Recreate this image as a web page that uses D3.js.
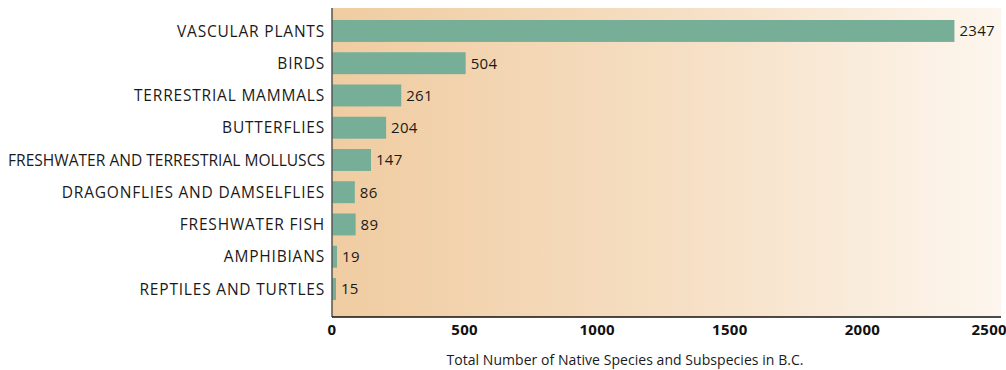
<!DOCTYPE html>
<html>
<head>
<meta charset="utf-8">
<script src="https://cdn.jsdelivr.net/npm/d3@7"></script>
<style>
  body { margin: 0; background: #fff; }
  svg { display: block; font-family: "Open Sans", sans-serif; }
</style>
</head>
<body>
<div id="chart"></div>
<script>
const categories = [
  "VASCULAR PLANTS", "BIRDS", "TERRESTRIAL MAMMALS", "BUTTERFLIES",
  "FRESHWATER AND TERRESTRIAL MOLLUSCS", "DRAGONFLIES AND DAMSELFLIES",
  "FRESHWATER FISH", "AMPHIBIANS", "REPTILES AND TURTLES"
];
const counts = [2347, 504, 261, 204, 147, 86, 89, 19, 15];
const xTicks = [0, 500, 1000, 1500, 2000, 2500];
const xTitle = "Total Number of Native Species and Subspecies in B.C.";

const width = 1006;
const height = 370;
const margin = { top: 8, right: 5, bottom: 53, left: 332 };

const svg = d3.select("#chart").append("svg")
  .attr("width", width)
  .attr("height", height);

const x = d3.scaleLinear().domain([0, 2500]).range([margin.left, 995]);
// step ~32.25px, bars ~22px tall
const y = d3.scaleBand().domain(categories)
  .range([20, 20 + 32.25 * (categories.length - 0.32)])
  .paddingInner(0.32).paddingOuter(0);

// background gradient
const grad = svg.append("defs").append("linearGradient")
  .attr("id", "bg").attr("x1", "0%").attr("x2", "100%");
grad.append("stop").attr("offset", "0%").attr("stop-color", "#f0cca1");
grad.append("stop").attr("offset", "55%").attr("stop-color", "#f6e0c6");
grad.append("stop").attr("offset", "100%").attr("stop-color", "#fdf6ee");

svg.append("rect")
  .attr("x", margin.left)
  .attr("y", margin.top)
  .attr("width", width - margin.right - margin.left)
  .attr("height", height - margin.bottom - margin.top)
  .attr("fill", "url(#bg)");

svg.selectAll("rect.bar")
  .data(counts)
  .join("rect")
  .attr("class", "bar")
  .attr("x", x(0))
  .attr("y", (d, i) => y(categories[i]))
  .attr("width", d => x(d) - x(0))
  .attr("height", y.bandwidth())
  .attr("fill", "#76ae97");

svg.selectAll("text.val")
  .data(counts)
  .join("text")
  .attr("class", "val")
  .attr("x", d => x(d) + 5)
  .attr("y", (d, i) => y(categories[i]) + y.bandwidth() / 2)
  .attr("dy", "0.36em")
  .style("font-size", "15px")
  .style("letter-spacing", "0.3px")
  .style("fill", "#1a1a1a")
  .text(d => d);

const catLabels = svg.selectAll("text.cat")
  .data(categories)
  .join("text")
  .attr("class", "cat")
  .attr("x", margin.left - 7)
  .attr("y", d => y(d) + y.bandwidth() / 2)
  .attr("dy", "0.36em")
  .attr("text-anchor", "end")
  .style("font-size", "15.5px")
  .style("letter-spacing", "0.8px")
  .style("fill", "#1a1a1a")
  .text(d => d);

// squeeze the long label so it fits like the original
catLabels.each(function () {
  const maxW = margin.left - 7 - 8;
  if (this.getComputedTextLength() > maxW) {
    d3.select(this).style("letter-spacing", "0px")
      .attr("textLength", maxW).attr("lengthAdjust", "spacingAndGlyphs");
  }
});

// axes lines
svg.append("line")
  .attr("x1", margin.left).attr("x2", margin.left)
  .attr("y1", margin.top).attr("y2", height - margin.bottom)
  .attr("stroke", "#555").attr("stroke-width", 1.5);
svg.append("line")
  .attr("x1", margin.left).attr("x2", width - margin.right)
  .attr("y1", height - margin.bottom).attr("y2", height - margin.bottom)
  .attr("stroke", "#111").attr("stroke-width", 1.5);

svg.selectAll("text.tick")
  .data(xTicks)
  .join("text")
  .attr("class", "tick")
  .attr("x", d => x(d))
  .attr("y", height - margin.bottom + 18)
  .attr("text-anchor", d => d === 2500 ? "end" : "middle")
  .attr("dx", d => d === 2500 ? 12 : 0)
  .style("font-size", "15px")
  .style("font-weight", "bold")
  .style("letter-spacing", "0.3px")
  .style("fill", "#111")
  .text(d => d);

svg.append("text")
  .attr("x", 625)
  .attr("y", 365)
  .attr("text-anchor", "middle")
  .style("font-size", "14px")
  .style("letter-spacing", "0.05px")
  .style("fill", "#1a1a1a")
  .text(xTitle);
</script>
</body>
</html>
